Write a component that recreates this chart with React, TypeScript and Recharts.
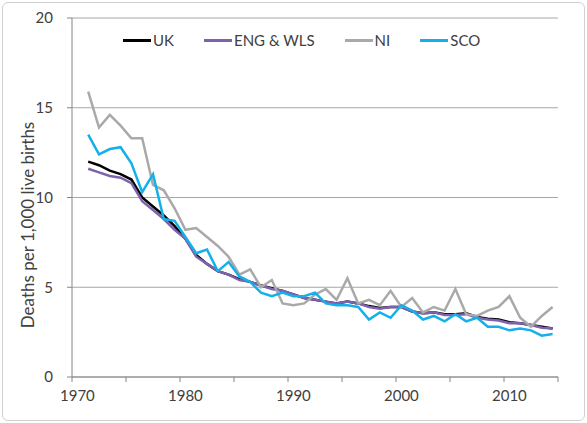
import { LineChart, Line, XAxis, YAxis, CartesianGrid, Legend } from "recharts";

// Neonatal deaths per 1,000 live births, 1971-2014
const years = [
  1971, 1972, 1973, 1974, 1975, 1976, 1977, 1978, 1979, 1980,
  1981, 1982, 1983, 1984, 1985, 1986, 1987, 1988, 1989, 1990,
  1991, 1992, 1993, 1994, 1995, 1996, 1997, 1998, 1999, 2000,
  2001, 2002, 2003, 2004, 2005, 2006, 2007, 2008, 2009, 2010,
  2011, 2012, 2013, 2014,
];

const uk = [
  12.0, 11.8, 11.5, 11.3, 11.0, 10.0, 9.5, 9.0, 8.4, 7.7,
  6.8, 6.3, 5.9, 5.7, 5.45, 5.3, 5.1, 4.95, 4.8, 4.6,
  4.4, 4.3, 4.2, 4.1, 4.2, 4.1, 3.95, 3.85, 3.9, 3.9,
  3.65, 3.55, 3.6, 3.5, 3.5, 3.55, 3.35, 3.25, 3.2, 3.05,
  3.0, 2.9, 2.8, 2.7,
];

const engWls = [
  11.6, 11.4, 11.2, 11.1, 10.8, 9.8, 9.3, 8.8, 8.2, 7.7,
  6.7, 6.3, 5.9, 5.7, 5.4, 5.3, 5.1, 4.9, 4.8, 4.6,
  4.4, 4.3, 4.2, 4.1, 4.2, 4.1, 3.9, 3.8, 3.9, 3.9,
  3.65, 3.55, 3.6, 3.45, 3.45, 3.5, 3.3, 3.2, 3.15, 3.0,
  3.0, 2.9, 2.75, 2.7,
];

const ni = [
  15.9, 13.9, 14.6, 14.0, 13.3, 13.3, 10.7, 10.4, 9.4, 8.2,
  8.3, 7.8, 7.3, 6.7, 5.7, 6.0, 5.0, 5.4, 4.1, 4.0,
  4.1, 4.6, 4.9, 4.3, 5.5, 4.1, 4.3, 4.0, 4.8, 3.9,
  4.4, 3.6, 3.9, 3.7, 4.9, 3.5, 3.4, 3.7, 3.9, 4.5,
  3.3, 2.8, 3.4, 3.9,
];

const sco = [
  13.5, 12.4, 12.7, 12.8, 11.9, 10.3, 11.3, 8.8, 8.7, 7.8,
  6.9, 7.1, 5.9, 6.4, 5.6, 5.3, 4.7, 4.5, 4.7, 4.5,
  4.5, 4.7, 4.1, 4.0, 4.0, 3.9, 3.2, 3.6, 3.3, 4.0,
  3.7, 3.2, 3.4, 3.1, 3.5, 3.1, 3.3, 2.8, 2.8, 2.6,
  2.7, 2.6, 2.3, 2.4,
];

const seriesNames = ["UK", "ENG & WLS", "NI", "SCO"];
const decadeLabels = [1970, 1980, 1990, 2000, 2010];
const tickMarks = [1969.5, 1974.5, 1979.5, 1984.5, 1989.5, 1994.5, 1999.5, 2004.5, 2009.5, 2014.5];

const data = years.map((year, i) => ({
  year,
  uk: uk[i],
  engWls: engWls[i],
  ni: ni[i],
  sco: sco[i],
}));

const axisGrey = "#868686";
const textColor = "#404040";

// decade labels sit between tick marks (Excel category style)
function XTick(props: any) {
  const { x, y, payload } = props;
  const v = payload.value;
  if (Number.isInteger(v)) {
    return (
      <text x={x} y={y + 24} textAnchor="middle" fill={textColor} fontSize={15}>
        {v}
      </text>
    );
  }
  return <line x1={x} x2={x} y1={y} y2={y + 5} stroke={axisGrey} />;
}

function LegendContent(props: any) {
  const items = [...(props.payload || [])].sort(
    (a: any, b: any) => seriesNames.indexOf(a.value) - seriesNames.indexOf(b.value)
  );
  return (
    <div style={{ display: "flex", alignItems: "center", gap: 30 }}>
      {items.map((p: any) => (
        <div key={p.value} style={{ display: "flex", alignItems: "center" }}>
          <span
            style={{ display: "inline-block", width: 28, height: 3, background: p.color, marginRight: 2 }}
          />
          <span style={{ fontSize: 15, color: textColor, lineHeight: "18px" }}>{p.value}</span>
        </div>
      ))}
    </div>
  );
}

export default function App() {
  return (
    <div
      style={{
        position: "absolute",
        left: 0,
        top: 0,
        width: 587,
        height: 423,
        background: "#fff",
        fontFamily: "Lato, 'Liberation Sans', sans-serif",
      }}
    >
      <div
        style={{
          position: "absolute",
          left: 2,
          top: 2,
          width: 581,
          height: 417,
          border: "1px solid #d0d0d0",
          borderRadius: 6,
        }}
      />
      <LineChart
        width={587}
        height={423}
        data={data}
        margin={{ top: 18, right: 29, bottom: 16, left: 0 }}
      >
        <CartesianGrid vertical={false} stroke="#a6a6a6" />
        <XAxis
          dataKey="year"
          type="number"
          domain={[1969.5, 2014.5]}
          ticks={[...tickMarks, ...decadeLabels].sort((a, b) => a - b)}
          interval={0}
          height={30}
          tickSize={0}
          tickMargin={0}
          tickLine={false}
          axisLine={{ stroke: axisGrey }}
          tick={<XTick />}
        />
        <YAxis
          domain={[0, 20]}
          ticks={[0, 5, 10, 15, 20]}
          width={72}
          tickSize={5}
          tickMargin={14}
          axisLine={{ stroke: axisGrey }}
          tickLine={{ stroke: axisGrey }}
          tick={{ fill: textColor, fontSize: 15 }}
          label={{
            content: () => (
              <text
                x={27}
                y={225}
                transform="rotate(-90, 27, 225)"
                textAnchor="middle"
                dominantBaseline="central"
                fill={textColor}
                fontSize={17}
              >
                Deaths per 1,000 live  births
              </text>
            ),
          }}
        />
        <Legend
          layout="horizontal"
          verticalAlign="middle"
          align="center"
          wrapperStyle={{ top: 31, left: 123, width: "auto" }}
          content={<LegendContent />}
        />
        <Line name="UK" dataKey="uk" stroke="#000000" strokeWidth={2.5} dot={false} isAnimationActive={false} />
        <Line name="ENG & WLS" dataKey="engWls" stroke="#7d62ad" strokeWidth={2.5} dot={false} isAnimationActive={false} />
        <Line name="NI" dataKey="ni" stroke="#a9a9a9" strokeWidth={2.5} dot={false} isAnimationActive={false} />
        <Line name="SCO" dataKey="sco" stroke="#14b0ea" strokeWidth={2.5} dot={false} isAnimationActive={false} />
      </LineChart>
    </div>
  );
}
